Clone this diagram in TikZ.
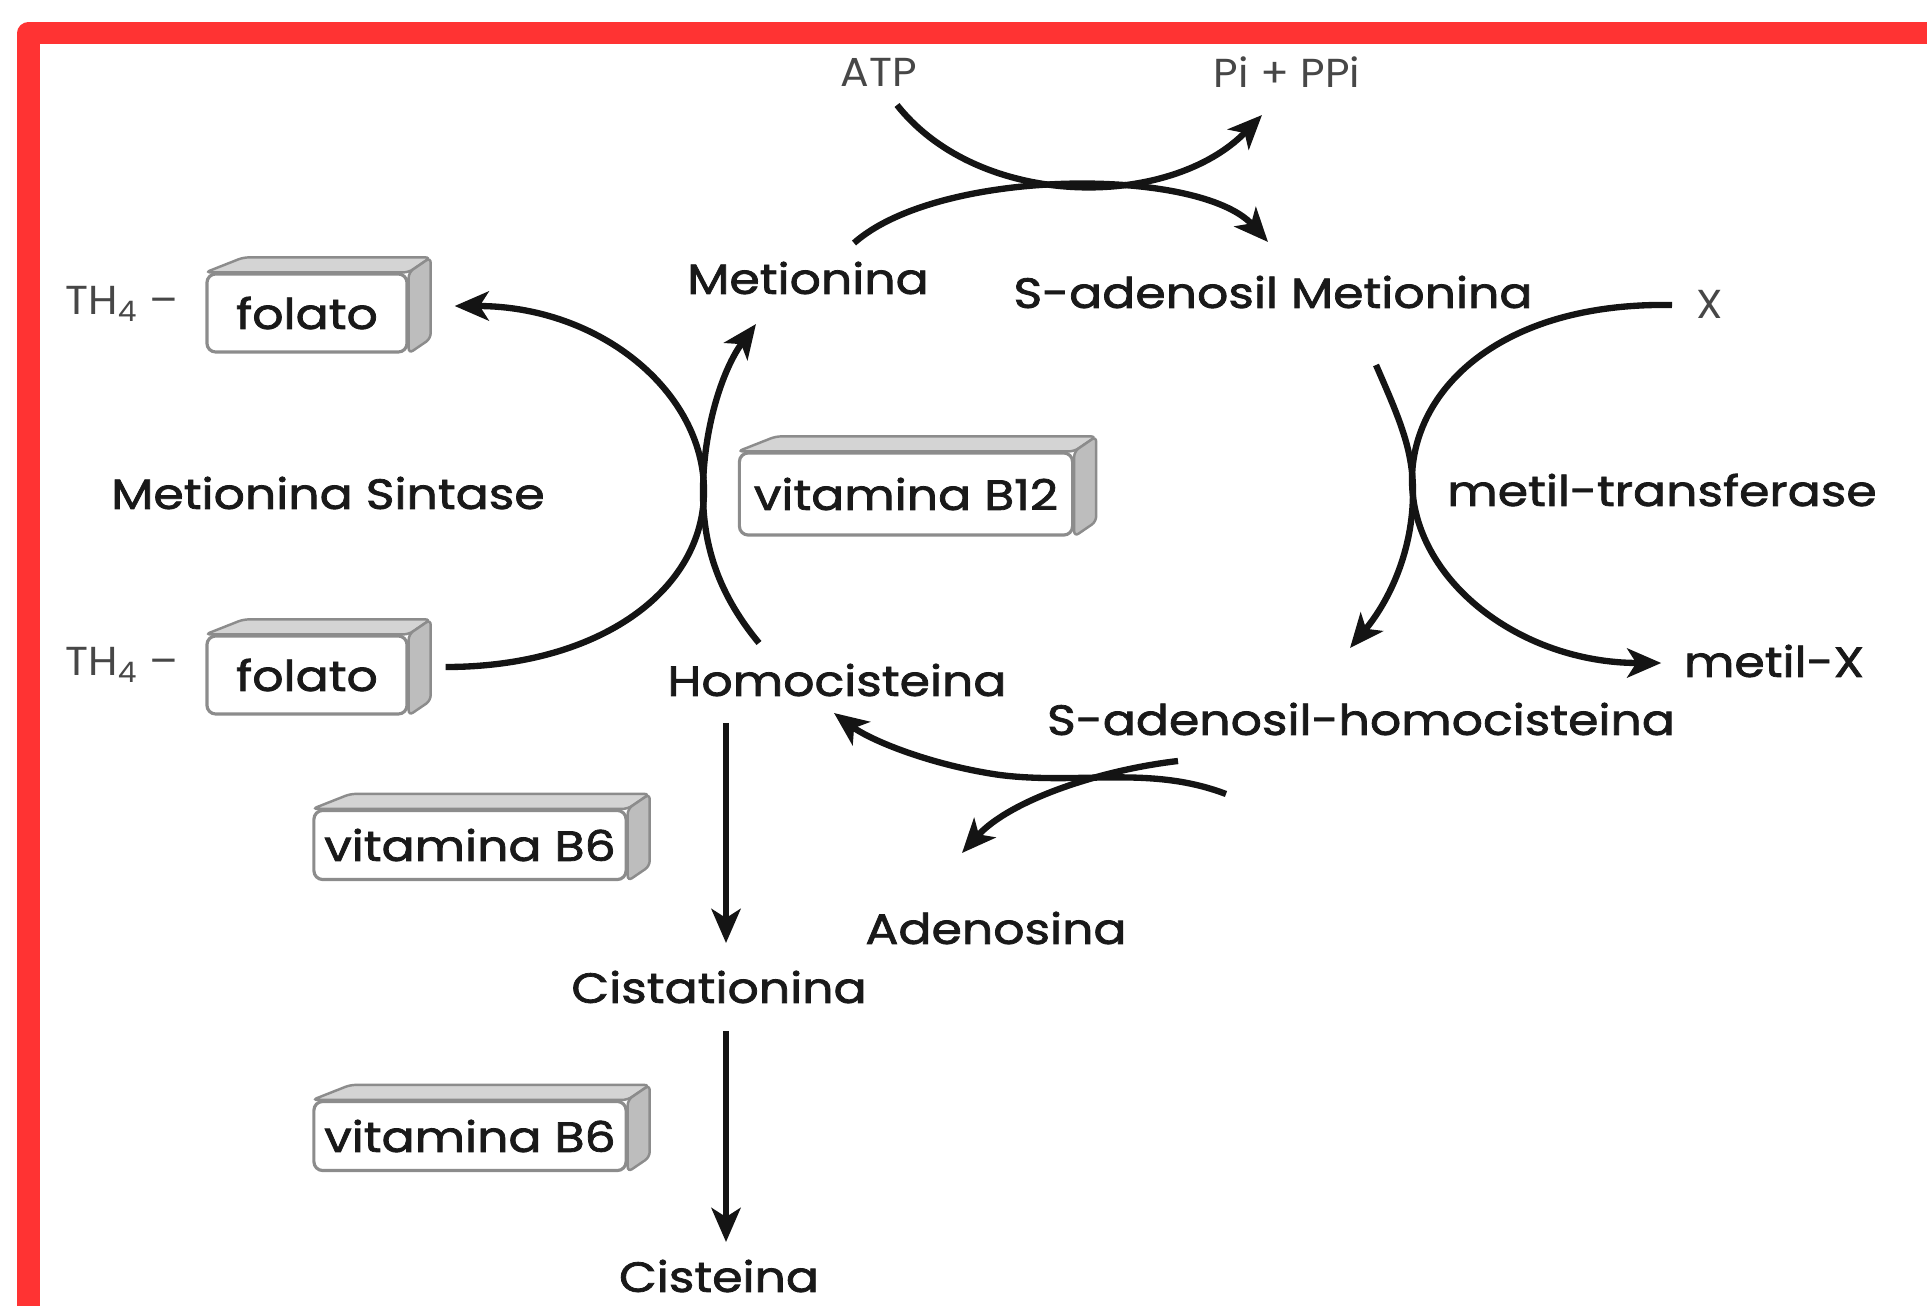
\documentclass[tikz,border=0pt]{standalone}
\usepackage{fontspec}
\setmainfont{Poppins}
\usepackage{xcolor}
\usetikzlibrary{arrows.meta,positioning}
\definecolor{framered}{RGB}{255,51,51}
\newfontfamily\labelfont[FakeStretch=1.16,FakeBold=1.8]{Poppins}
\newfontfamily\tagfont[FakeStretch=1.05]{Poppins}

\begin{document}
\begin{tikzpicture}[x=0.01cm,y=-0.01cm,
  lbl/.style={font=\labelfont\fontsize{12}{14}\selectfont,text=black!90,inner sep=0pt},
  tag/.style={font=\tagfont\fontsize{11.5}{14}\selectfont,text=black!72,inner sep=0pt},
  vitbox/.style={lbl,draw=black!45,line width=0.9pt,fill=white,rounded corners=2.5pt},
  face/.style={draw=black!45,line width=0.7pt,fill=black!17,rounded corners=1.5pt},
  arrow/.style={-{Stealth[length=3.4mm,width=2.9mm,inset=0.9mm]},line width=1.8pt,draw=black!92},
  frame/.style={draw=framered,line width=0.22cm,line join=round}
]
\useasboundingbox (0,0) rectangle (1927,1306);
\draw[frame] (1960,33) -- (28.5,33) -- (28.5,1340);

% top reaction
\node[tag] (atp) at (879,72) {ATP};
\node[tag] (ppi) at (1287,72) {Pi + PPi};
\node[lbl] (met) at (808,278) {Metionina};
\node[lbl] (sam) at (1273,292) {S-adenosil Metionina};
\node[tag] (xx) at (1710,304) {X};

% left cycle
\node[tag] (th1) at (122,304) {TH\textsubscript{4} –};
\node[vitbox,minimum width=2.00cm,minimum height=0.78cm] (fol1) at (307,313) {folato};
\node[lbl] (ms) at (328,493) {Metionina Sintase};
\node[vitbox,minimum width=3.33cm,minimum height=0.82cm] (b12) at (906,494) {vitamina B12};
\node[tag] (th2) at (122,665) {TH\textsubscript{4} –};
\node[vitbox,minimum width=2.00cm,minimum height=0.78cm] (fol2) at (307,675) {folato};
\node[lbl] (hcy) at (837,680) {Homocisteina};

% right cycle
\node[lbl] (mt) at (1662,490) {metil-transferase};
\node[lbl] (metx) at (1774,661) {metil-X};
\node[lbl] (sah) at (1361,719) {S-adenosil-homocisteina};
\node[lbl] (ade) at (996,928) {Adenosina};

% transsulfuration
\node[vitbox,minimum width=3.12cm,minimum height=0.69cm] (b6a) at (470,845) {vitamina B6};
\node[lbl] (cys) at (719,987) {Cistationina};
\node[vitbox,minimum width=3.12cm,minimum height=0.69cm] (b6b) at (470,1136) {vitamina B6};
\node[lbl] (cis) at (719,1276) {Cisteina};

% box faces
\foreach \b in {fol1,fol2,b12,b6a,b6b}{
  \draw[face] (\b.north west) -- ++(38,-15) -- ([shift={(22,-15)}]\b.north east) -- (\b.north east) -- cycle;
  \draw[face,fill=black!26] (\b.north east) -- ++(22,-15) -- ([shift={(22,-15)}]\b.south east) -- (\b.south east) -- cycle;
}

\draw[arrow] ([shift={(18,33)}]atp.center) .. controls (980,210) and (1170,210) .. ([shift={(-25,43)}]ppi.center);
\draw[arrow] ([shift={(46,-35)}]met.center) .. controls (940,167) and (1200,167) .. ([shift={(-5,-50)}]sam.center);

\draw[arrow] ([shift={(37,-8)}]fol2.east) .. controls (600,667) and (704,590) .. (704,491)
  .. controls (704,392) and (600,306) .. ([shift={(46,-7)}]fol1.east);
\draw[arrow] ([shift={(-78,-37)}]hcy.center) .. controls (715,590) and (703,540) .. (703,492)
  .. controls (703,430) and (722,370) .. ([shift={(-52,46)}]met.center);

\draw[arrow] ([shift={(-38,1)}]xx.center) .. controls (1500,302) and (1412,390) .. (1412,480)
  .. controls (1412,580) and (1520,663) .. ([shift={(-22,2)}]metx.west);
\draw[arrow] ([shift={(103,73)}]sam.center) .. controls (1400,420) and (1413,450) .. (1413,492)
  .. controls (1413,550) and (1390,600) .. ([shift={(-11,-71)}]sah.center);

\draw[arrow] ([shift={(-135,75)}]sah.center) .. controls (1150,765) and (1080,785) .. (1000,775)
  .. controls (930,765) and (870,740) .. ([shift={(-3,33)}]hcy.center);
\draw[arrow] ([shift={(-183,42)}]sah.center) .. controls (1100,770) and (1010,800) .. ([shift={(-34,-75)}]ade.center);

\draw[arrow,shorten <=0.26cm,shorten >=0.27cm] ([xshift=0.07cm]hcy.south -| cys.north) -- ([xshift=0.07cm]cys.north);
\draw[arrow,shorten <=0.27cm,shorten >=0.17cm] ([xshift=0.07cm]cys.south) -- ([xshift=0.07cm]cis.north);
\end{tikzpicture}
\end{document}
